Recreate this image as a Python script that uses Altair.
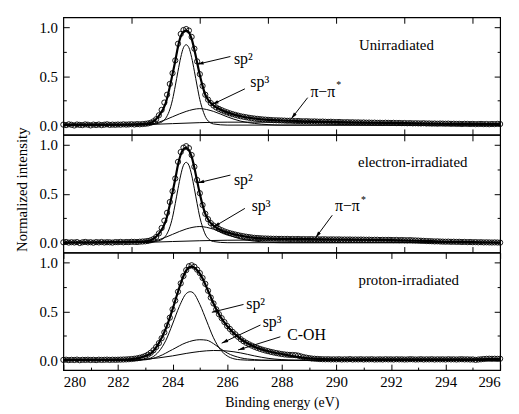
import math
import altair as alt
import pandas as pd

X_MIN, X_MAX = 280, 296
Y_MIN, Y_MAX = -0.1, 1.1
W, H = 442, 119
FONT = "Times New Roman, Liberation Serif, DejaVu Serif, serif"

# measured spectra (circles), 0.1 eV steps 280.0 ... 296.0
CIRCLE_X = [round(280 + 0.1 * i, 1) for i in range(161)]

UNIRR_Y = [
    0.005, 0.000, 0.008, 0.003, -0.004, 0.006, 0.002, 0.000, 0.007, 0.004,
    -0.003, 0.005, 0.001, 0.006, 0.000, 0.004, 0.008, 0.002, 0.005, 0.003,
    0.006, 0.004, 0.008, 0.005, 0.007, 0.009, 0.006, 0.010, 0.008, 0.011,
    0.013, 0.017, 0.024, 0.038, 0.060, 0.100, 0.155, 0.230, 0.310, 0.420,
    0.530, 0.660, 0.830, 0.930, 0.970, 0.980, 0.965, 0.900, 0.780, 0.650,
    0.520, 0.400, 0.310, 0.260, 0.225, 0.200, 0.180, 0.165, 0.152, 0.140,
    0.130, 0.120, 0.112, 0.104, 0.097, 0.090, 0.085, 0.080, 0.075, 0.071,
    0.067, 0.064, 0.061, 0.058, 0.056, 0.054, 0.052, 0.050, 0.049, 0.048,
    0.047, 0.046, 0.044, 0.045, 0.043, 0.041, 0.042, 0.040, 0.039, 0.040,
    0.038, 0.037, 0.038, 0.036, 0.035, 0.036, 0.034, 0.033, 0.034, 0.032,
    0.031, 0.032, 0.030, 0.029, 0.030, 0.028, 0.029, 0.027, 0.028, 0.026,
    0.027, 0.025, 0.026, 0.024, 0.025, 0.023, 0.024, 0.022, 0.024, 0.023,
    0.022, 0.023, 0.021, 0.022, 0.020, 0.021, 0.019, 0.020, 0.018, 0.019,
    0.018, 0.017, 0.019, 0.016, 0.017, 0.015, 0.016, 0.014, 0.016, 0.015,
    0.014, 0.015, 0.013, 0.014, 0.012, 0.013, 0.011, 0.013, 0.012, 0.011,
    0.012, 0.010, 0.011, 0.012, 0.010, 0.011, 0.009, 0.011, 0.010, 0.012,
    0.011,
]

ELEC_Y = [
    0.004, 0.007, 0.001, 0.005, 0.002, 0.006, -0.003, 0.004, 0.008, 0.003,
    0.005, 0.000, 0.006, 0.003, 0.007, 0.002, 0.005, 0.004, 0.001, 0.006,
    0.005, 0.008, 0.004, 0.007, 0.006, 0.009, 0.008, 0.007, 0.010, 0.012,
    0.014, 0.018, 0.025, 0.037, 0.058, 0.095, 0.150, 0.225, 0.305, 0.415,
    0.525, 0.655, 0.825, 0.925, 0.970, 0.985, 0.965, 0.895, 0.775, 0.640,
    0.505, 0.385, 0.295, 0.240, 0.200, 0.175, 0.155, 0.140, 0.127, 0.115,
    0.105, 0.097, 0.090, 0.083, 0.077, 0.071, 0.066, 0.061, 0.057, 0.053,
    0.050, 0.048, 0.046, 0.044, 0.043, 0.042, 0.041, 0.040, 0.040, 0.039,
    0.039, 0.038, 0.039, 0.037, 0.038, 0.037, 0.038, 0.036, 0.037, 0.036,
    0.036, 0.037, 0.035, 0.036, 0.034, 0.035, 0.035, 0.033, 0.034, 0.034,
    0.033, 0.034, 0.032, 0.033, 0.032, 0.033, 0.031, 0.032, 0.031, 0.032,
    0.031, 0.030, 0.031, 0.029, 0.030, 0.030, 0.028, 0.029, 0.028, 0.029,
    0.028, 0.027, 0.028, 0.026, 0.027, 0.026, 0.025, 0.026, 0.024, 0.023,
    0.022, 0.020, 0.019, 0.017, 0.016, 0.015, 0.013, 0.014, 0.012, 0.011,
    0.010, 0.011, 0.009, 0.010, 0.008, 0.009, 0.007, 0.008, 0.006, 0.007,
    0.005, 0.006, 0.004, 0.005, 0.003, 0.004, 0.003, 0.002, 0.003, 0.002,
    0.001,
]

PROT_Y = [
    0.004, 0.006, 0.002, 0.005, 0.003, 0.007, 0.001, 0.005, 0.004, 0.006,
    0.003, 0.005, 0.002, 0.006, 0.004, 0.005, 0.007, 0.004, 0.006, 0.005,
    0.006, 0.007, 0.008, 0.009, 0.011, 0.013, 0.016, 0.020, 0.026, 0.034,
    0.044, 0.058, 0.077, 0.102, 0.135, 0.175, 0.225, 0.285, 0.355, 0.435,
    0.520, 0.610, 0.700, 0.785, 0.860, 0.920, 0.960, 0.970, 0.955, 0.925,
    0.890, 0.840, 0.780, 0.710, 0.640, 0.580, 0.520, 0.470, 0.430, 0.390,
    0.350, 0.320, 0.290, 0.265, 0.240, 0.215, 0.195, 0.178, 0.163, 0.150,
    0.138, 0.127, 0.117, 0.108, 0.100, 0.093, 0.086, 0.080, 0.074, 0.069,
    0.064, 0.060, 0.057, 0.055, 0.054, 0.053, 0.048, 0.040, 0.033, 0.027,
    0.022, 0.018, 0.016, 0.014, 0.012, 0.011, 0.010, 0.011, 0.009, 0.010,
    0.009, 0.011, 0.008, 0.010, 0.009, 0.012, 0.008, 0.010, 0.009, 0.011,
    0.008, 0.010, 0.009, 0.011, 0.008, 0.009, 0.010, 0.008, 0.011, 0.009,
    0.010, 0.008, 0.011, 0.009, 0.010, 0.008, 0.009, 0.011, 0.010, 0.008,
    0.009, 0.011, 0.008, 0.010, 0.009, 0.011, 0.008, 0.010, 0.009, 0.010,
    0.008, 0.011, 0.009, 0.010, 0.008, 0.010, 0.011, 0.009, 0.010, 0.008,
    0.009, 0.004, 0.008, 0.010, 0.013, 0.015, 0.016, 0.015, 0.016, 0.015,
    0.016,
]

# fitted envelopes (thick lines)
ENV_X = [280, 281, 282, 282.5, 283, 283.25, 283.5, 283.75, 284, 284.1, 284.2,
         284.3, 284.4, 284.5, 284.6, 284.7, 284.8, 284.9, 285, 285.1, 285.2,
         285.3, 285.4, 285.5, 285.75, 286, 286.5, 287, 287.5, 288, 289, 290,
         291, 292, 293, 294, 295, 296]
UNIRR_ENV = [0.004, 0.004, 0.006, 0.008, 0.013, 0.03, 0.095, 0.225, 0.52, 0.655,
             0.80, 0.905, 0.955, 0.965, 0.945, 0.88, 0.77, 0.64, 0.51, 0.40,
             0.31, 0.26, 0.225, 0.20, 0.16, 0.13, 0.09, 0.067, 0.054, 0.047,
             0.038, 0.031, 0.026, 0.022, 0.018, 0.014, 0.012, 0.011]
ELEC_ENV = [0.004, 0.004, 0.006, 0.008, 0.013, 0.03, 0.092, 0.22, 0.515, 0.65,
            0.795, 0.90, 0.955, 0.968, 0.945, 0.878, 0.765, 0.63, 0.50, 0.385,
            0.295, 0.24, 0.20, 0.175, 0.13, 0.105, 0.071, 0.05, 0.042, 0.038,
            0.036, 0.033, 0.030, 0.027, 0.02, 0.01, 0.005, 0.002]
PROT_ENV = [0.005, 0.005, 0.006, 0.012, 0.044, 0.08, 0.175, 0.32, 0.52, 0.61,
            0.70, 0.785, 0.86, 0.915, 0.95, 0.955, 0.945, 0.92, 0.885, 0.835,
            0.775, 0.71, 0.645, 0.58, 0.445, 0.35, 0.215, 0.138, 0.093, 0.064,
            0.02, 0.01, 0.01, 0.01, 0.01, 0.01, 0.011, 0.013]

# fitted components
SP2_X = [280, 283.0, 283.5, 283.75, 284.0, 284.1, 284.2, 284.3, 284.4, 284.5,
         284.6, 284.7, 284.8, 284.9, 285.0, 285.1, 285.25, 285.5, 286.0, 296]
UNIRR_SP2 = [0, 0.002, 0.02, 0.07, 0.26, 0.40, 0.55, 0.69, 0.79, 0.82,
             0.79, 0.69, 0.55, 0.40, 0.26, 0.16, 0.06, 0.012, 0.0, 0]
ELEC_SP2 = [0, 0.002, 0.02, 0.07, 0.26, 0.40, 0.55, 0.69, 0.79, 0.82,
            0.79, 0.69, 0.55, 0.40, 0.26, 0.16, 0.06, 0.012, 0.0, 0]
SP3_X = [280, 283.0, 283.5, 284.0, 284.5, 285.0, 285.5, 286.0, 286.5, 287.0,
         287.5, 288.0, 296]
UNIRR_SP3 = [0, 0.005, 0.03, 0.085, 0.14, 0.168, 0.14, 0.085, 0.04, 0.017,
             0.005, 0.0, 0]
ELEC_SP3 = [0, 0.005, 0.03, 0.085, 0.14, 0.165, 0.138, 0.083, 0.038, 0.016,
            0.005, 0.0, 0]
PP_X = [280, 282, 283, 284, 285, 286, 287, 288, 289, 290, 291, 292, 293, 294,
        295, 296]
UNIRR_PP = [0, 0.0, 0.005, 0.015, 0.025, 0.03, 0.03, 0.03, 0.027, 0.024, 0.021,
            0.018, 0.015, 0.012, 0.01, 0.008]
ELEC_PP = [0, 0.0, 0.003, 0.012, 0.02, 0.025, 0.027, 0.028, 0.028, 0.027,
           0.025, 0.022, 0.017, 0.01, 0.005, 0.002]

PROT_SP2_X = [280, 282.5, 283.0, 283.25, 283.5, 283.75, 284.0, 284.25, 284.5,
              284.65, 284.75, 285.0, 285.25, 285.5, 285.75, 286.0, 286.25,
              286.5, 287.0, 296]
PROT_SP2 = [0, 0.0, 0.01, 0.03, 0.09, 0.2, 0.37, 0.55, 0.68, 0.70, 0.69, 0.57,
            0.40, 0.23, 0.11, 0.045, 0.015, 0.005, 0.0, 0]
PROT_SP3_X = [280, 282.5, 283.0, 283.5, 284.0, 284.5, 285.0, 285.25, 285.5,
              285.75, 286.0, 286.5, 287.0, 287.5, 296]
PROT_SP3 = [0, 0.0, 0.005, 0.04, 0.11, 0.18, 0.21, 0.205, 0.17, 0.12, 0.075,
            0.025, 0.007, 0.0, 0]
PROT_COH_X = [280, 282.5, 283.0, 283.5, 284.0, 284.5, 285.0, 285.5, 286.0,
              286.5, 287.0, 287.5, 288.0, 288.5, 296]
PROT_COH = [0, 0.0, 0.01, 0.025, 0.045, 0.07, 0.09, 0.10, 0.095, 0.075, 0.045,
            0.02, 0.007, 0.0, 0]

# annotations: (x, y, text)
UNIRR_LABELS = [(286.25, 0.67, "sp²"), (286.85, 0.44, "sp³"), (289.05, 0.34, "π−π")]
UNIRR_STARS = [(290.0, 0.41)]
UNIRR_ARROWS = [(286.12, 0.70, 284.90, 0.62), (286.65, 0.37, 285.45, 0.21),
                (288.95, 0.28, 288.35, 0.065)]
ELEC_LABELS = [(286.25, 0.64, "sp²"), (286.9, 0.37, "sp³"), (289.95, 0.37, "π−π")]
ELEC_STARS = [(290.9, 0.44)]
ELEC_ARROWS = [(286.12, 0.69, 284.92, 0.61), (286.65, 0.35, 285.5, 0.16),
               (289.85, 0.28, 289.24, 0.05)]
PROT_LABELS = [(286.7, 0.57, "sp²"), (287.3, 0.39, "sp³"), (288.2, 0.26, "C-OH")]
PROT_STARS = []
PROT_ARROWS = [(286.6, 0.57, 285.44, 0.49), (287.22, 0.36, 285.8, 0.175),
               (287.95, 0.24, 286.4, 0.105)]

PANEL_NAMES = ["Unirradiated", "electron-irradiated", "proton-irradiated"]
PANEL_NAME_POS = [(292.2, 0.82), (292.8, 0.82), (292.65, 0.82)]

XT_25 = [282.5, 285, 287.5, 290, 292.5, 295]
XT_MAJOR = list(range(280, 297, 2))
XT_MINOR = list(range(281, 296, 2))
YT_MAJOR = [0, 0.5, 1.0]
YT_MINOR = [0.25, 0.75]

XS = alt.Scale(domain=[X_MIN, X_MAX], nice=False, zero=False)
YS = alt.Scale(domain=[Y_MIN, Y_MAX], nice=False, zero=False)

ARROW_PATH = "M0,0L-0.45,1.7L0.45,1.7Z"


def tick_axis(orient, values, size):
    # ticks drawn inward (negative length given as an expression)
    return alt.Axis(orient=orient, values=values, tickSize={"expr": str(-size)},
                    labels=False, title=None, domain=False, grid=False,
                    ticks=True, tickColor="black", tickWidth=1)


def line_layer(xs, ys, width, xaxis, yaxis):
    df = pd.DataFrame({"x": xs, "y": ys})
    return alt.Chart(df).mark_line(color="black", strokeWidth=width,
                                   interpolate="monotone").encode(
        x=alt.X("x:Q", scale=XS, axis=xaxis),
        y=alt.Y("y:Q", scale=YS, axis=yaxis),
    )


def panel(idx, circ_y, env_y, comps, labels, stars, arrows):
    bottom = idx == 2
    middle = idx == 1
    if bottom:
        xax = alt.Axis(orient="bottom", values=XT_MAJOR, format="d", ticks=False,
                       labels=True, title="Binding energy (eV)", labelPadding=5,
                       titlePadding=6, titleFontSize=14, domain=False, grid=False)
    else:
        xax = None
    ykw = dict(orient="left", values=YT_MAJOR, format=".1f", ticks=False,
               labelPadding=6, domain=False, grid=False)
    if middle:
        yax = alt.Axis(title="Normalized intensity", titlePadding=10, titleY=55, **ykw)
    else:
        yax = alt.Axis(title=None, **ykw)

    circ = pd.DataFrame({"x": CIRCLE_X, "y": circ_y})
    l_circ = alt.Chart(circ).mark_point(shape="circle", filled=False, color="black",
                                        size=28, strokeWidth=0.9, opacity=1).encode(
        x=alt.X("x:Q", scale=XS, axis=xax),
        y=alt.Y("y:Q", scale=YS, axis=yax),
    )
    top_vals = XT_MAJOR if bottom else XT_25
    bot_vals = XT_MAJOR if bottom else XT_25
    l_env = line_layer(ENV_X, env_y, 2.2, tick_axis("bottom", bot_vals, 6),
                       tick_axis("left", YT_MAJOR, 6))
    (x1, y1), (x2, y2), (x3, y3) = comps
    l_c1 = line_layer(x1, y1, 1.0, tick_axis("top", top_vals, 6),
                      tick_axis("right", YT_MAJOR, 6))
    l_c2 = line_layer(x2, y2, 1.0,
                      tick_axis("bottom", XT_MINOR, 3) if bottom else None,
                      tick_axis("left", YT_MINOR, 3))
    l_c3 = line_layer(x3, y3, 1.0, None, tick_axis("right", YT_MINOR, 3))

    rows = []
    for (xa, ya, xb, yb) in arrows:
        dx = (xb - xa) * W / (X_MAX - X_MIN)
        dy = -(yb - ya) * H / (Y_MAX - Y_MIN)
        ang = math.degrees(math.atan2(dx, -dy)) % 360
        rows.append({"xa": xa, "ya": ya, "xb": xb, "yb": yb, "ang": ang})
    adf = pd.DataFrame(rows)
    l_rule = alt.Chart(adf).mark_rule(color="black", strokeWidth=1).encode(
        x=alt.X("xa:Q", scale=XS, axis=None), y=alt.Y("ya:Q", scale=YS, axis=None),
        x2="xb:Q", y2="yb:Q")
    l_head = alt.Chart(adf).mark_point(shape=ARROW_PATH, filled=True, color="black",
                                       size=60, opacity=1, strokeWidth=0).encode(
        x=alt.X("xb:Q", scale=XS, axis=None), y=alt.Y("yb:Q", scale=YS, axis=None),
        angle=alt.Angle("ang:Q", scale=None))

    ldf = pd.DataFrame(labels, columns=["x", "y", "t"])
    l_txt = alt.Chart(ldf).mark_text(font=FONT, fontSize=16, align="left",
                                     baseline="middle", color="black").encode(
        x=alt.X("x:Q", scale=XS, axis=None), y=alt.Y("y:Q", scale=YS, axis=None),
        text="t:N")
    layers = [l_circ, l_env, l_c1, l_c2, l_c3, l_rule, l_head, l_txt]
    if stars:
        sdf = pd.DataFrame(stars, columns=["x", "y"])
        sdf["t"] = "*"
        layers.append(alt.Chart(sdf).mark_text(font=FONT, fontSize=10, align="left",
                                               baseline="middle", color="black").encode(
            x=alt.X("x:Q", scale=XS, axis=None), y=alt.Y("y:Q", scale=YS, axis=None),
            text="t:N"))
    ndf = pd.DataFrame({"x": [PANEL_NAME_POS[idx][0]], "y": [PANEL_NAME_POS[idx][1]],
                        "t": [PANEL_NAMES[idx]]})
    layers.append(alt.Chart(ndf).mark_text(font=FONT, fontSize=15, align="center",
                                           baseline="middle", color="black").encode(
        x=alt.X("x:Q", scale=XS, axis=None), y=alt.Y("y:Q", scale=YS, axis=None),
        text="t:N"))
    return alt.layer(*layers).resolve_axis(x="independent", y="independent").properties(
        width=W, height=H)


p1 = panel(0, UNIRR_Y, UNIRR_ENV,
           [(SP2_X, UNIRR_SP2), (SP3_X, UNIRR_SP3), (PP_X, UNIRR_PP)],
           UNIRR_LABELS, UNIRR_STARS, UNIRR_ARROWS)
p2 = panel(1, ELEC_Y, ELEC_ENV,
           [(SP2_X, ELEC_SP2), (SP3_X, ELEC_SP3), (PP_X, ELEC_PP)],
           ELEC_LABELS, ELEC_STARS, ELEC_ARROWS)
p3 = panel(2, PROT_Y, PROT_ENV,
           [(PROT_SP2_X, PROT_SP2), (PROT_SP3_X, PROT_SP3), (PROT_COH_X, PROT_COH)],
           PROT_LABELS, PROT_STARS, PROT_ARROWS)

chart = alt.vconcat(p1, p2, p3, spacing=0, bounds="flush").properties(
    padding={"left": 5, "right": 5, "top": 5, "bottom": 0}
).configure_view(stroke="black", strokeWidth=1.2).configure_axis(
    labelFont=FONT, labelFontSize=15, labelColor="black",
    titleFont=FONT, titleFontSize=15, titleFontWeight="normal", titleColor="black",
)

chart.save("out.html", embed_options={"renderer": "svg", "actions": False})
